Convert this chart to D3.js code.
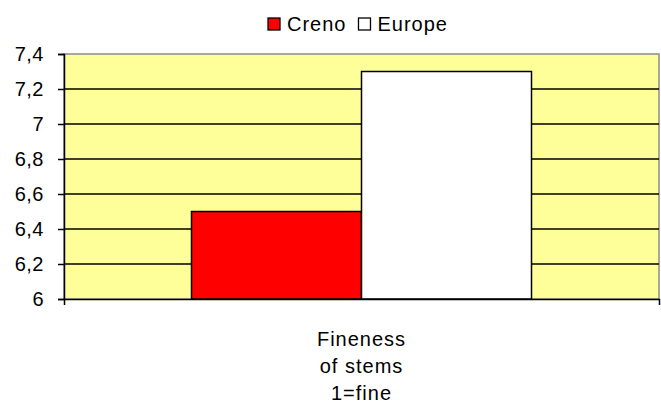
<!DOCTYPE html>
<html><head><meta charset="utf-8">
<script src="https://cdn.jsdelivr.net/npm/d3@7"></script>
<style>body{margin:0;background:#fff}svg{display:block}text{font-family:"Liberation Sans",Arial,sans-serif;fill:#000}</style>
</head><body>
<script>
const categories = ["Fineness|of stems|1=fine"];
const seriesNames = ["Creno", "Europe"];
const seriesColors = ["#FF0000", "#FFFFFF"];
const creno = [6.5];
const europe = [7.3];
const yTicks = [6, 6.2, 6.4, 6.6, 6.8, 7, 7.2, 7.4];

const W = 661, H = 403;
const m = {left: 64, right: 2, top: 54, bottom: 104};
const svg = d3.select("body").append("svg").attr("width", W).attr("height", H);
const x = d3.scaleBand().domain(categories).range([m.left, W - m.right]);
const y = d3.scaleLinear().domain([6, 7.4]).range([H - m.bottom, m.top]);
const fmt = d => String(d).replace(".", ",");

// plot area
svg.append("rect").attr("x", m.left).attr("y", m.top)
  .attr("width", W - m.right - m.left).attr("height", H - m.bottom - m.top)
  .attr("fill", "#FFFF99").attr("stroke", "#8c8c8c").attr("stroke-width", 1.5);

// gridlines
svg.append("g").selectAll("line").data(yTicks.slice(1, -1)).join("line")
  .attr("x1", m.left).attr("x2", W - m.right)
  .attr("y1", d => y(d)).attr("y2", d => y(d))
  .attr("stroke", "#000").attr("stroke-width", 1.5);

// bars
const series = [creno, europe];
const groupW = x.bandwidth() / 3.5 * 2;
const xs = d3.scaleBand().domain(seriesNames).range([0, groupW]);
categories.forEach((c, i) => {
  series.forEach((s, j) => {
    svg.append("rect")
      .attr("x", x(c) + (x.bandwidth() - groupW) / 2 + xs(seriesNames[j]))
      .attr("y", y(s[i])).attr("width", xs.bandwidth())
      .attr("height", y(6) - y(s[i]))
      .attr("fill", seriesColors[j]).attr("stroke", "#000").attr("stroke-width", 1.5);
  });
});

// y axis
const ya = svg.append("g").attr("transform", `translate(${m.left},0)`)
  .call(d3.axisLeft(y).tickValues(yTicks).tickFormat(fmt).tickSize(6).tickPadding(14));
ya.select(".domain").attr("stroke", "#000").attr("stroke-width", 1.5);
ya.selectAll(".tick line").attr("stroke", "#000").attr("stroke-width", 1.5);
ya.selectAll("text").style("font-size", "20px").style("letter-spacing", "0.5px").attr("fill", "#222");

// x axis
const xa = svg.append("g").attr("transform", `translate(0,${H - m.bottom})`)
  .call(d3.axisBottom(x).tickValues([]).tickSizeOuter(6));
xa.select(".domain").attr("stroke", "#000").attr("stroke-width", 1.5);
categories.forEach(c => {
  const t = svg.append("text").attr("text-anchor", "middle").style("font-size", "20px")
    .style("letter-spacing", "1px").attr("fill", "#222")
    .attr("transform", `translate(${x(c) + x.bandwidth() / 2},${H - m.bottom + 47})`);
  c.split("|").forEach((line, k) => t.append("tspan").attr("x", 0).attr("dy", k ? 27 : 0).text(line));
});

// legend
const lg = svg.append("g");
let lx = 268;
seriesNames.forEach((n, j) => {
  lg.append("rect").attr("x", lx).attr("y", 18).attr("width", 12).attr("height", 12)
    .attr("fill", seriesColors[j]).attr("stroke", "#000").attr("stroke-width", 1.3);
  const t = lg.append("text").attr("x", lx + 19).attr("y", 31).style("font-size", "20px")
    .style("letter-spacing", "1px").attr("fill", "#222").text(n);
  lx += 19 + t.node().getComputedTextLength() + 12;
});
</script>
</body></html>
